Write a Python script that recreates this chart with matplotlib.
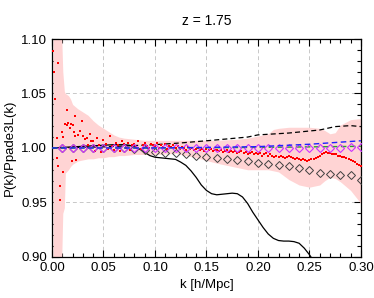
import numpy as np
import matplotlib
matplotlib.use("Agg")
import matplotlib.pyplot as plt
from matplotlib.ticker import MultipleLocator

plt.rcParams['font.family'] = ['Liberation Sans', 'DejaVu Sans']

# ---- pink band (error region) ----
band_k = [0.001, 0.0095, 0.0105, 0.012, 0.013, 0.016, 0.018, 0.020, 0.025, 0.030,
          0.035, 0.040, 0.045, 0.050, 0.055, 0.060, 0.065, 0.070, 0.080, 0.090,
          0.100, 0.120, 0.140, 0.160, 0.180, 0.190, 0.200, 0.210, 0.215, 0.220,
          0.230, 0.240, 0.250, 0.260, 0.265, 0.270, 0.275, 0.280, 0.290, 0.300]
band_hi = [1.100, 1.100, 1.070, 1.052, 1.050, 1.048, 1.045, 1.040, 1.036, 1.033,
           1.030, 1.025, 1.021, 1.018, 1.015, 1.012, 1.010, 1.009, 1.008, 1.007,
           1.007, 1.007, 1.007, 1.007, 1.008, 1.009, 1.011, 1.013, 1.017, 1.018,
           1.019, 1.019, 1.019, 1.018, 1.016, 1.013, 1.014, 1.021, 1.026, 1.027]
band_lo = [0.900, 0.900, 0.940, 0.945, 0.977, 0.980, 0.983, 0.985, 0.988, 0.989,
           0.990, 0.990, 0.991, 0.991, 0.992, 0.992, 0.993, 0.993, 0.994, 0.994,
           0.994, 0.995, 0.991, 0.986, 0.982, 0.980, 0.980, 0.980, 0.979, 0.978,
           0.971, 0.966, 0.964, 0.966, 0.970, 0.973, 0.972, 0.969, 0.961, 0.949]

# ---- red points (measured ratio) ----
red_k_lo = [0.0013, 0.0019, 0.0029, 0.0046, 0.0050, 0.0055, 0.0061, 0.0078, 0.0078, 0.0096,
            0.0104, 0.0110, 0.0126, 0.0143, 0.0150, 0.0160, 0.0175, 0.0185, 0.0190, 0.0200,
            0.0210, 0.0223, 0.0223, 0.0230, 0.0250, 0.0270, 0.0288, 0.0300, 0.0320, 0.0337,
            0.0350, 0.0369, 0.0380]
red_lo = [1.089, 1.070, 1.045, 1.009, 0.991, 0.983, 1.078, 0.965, 0.952, 1.015,
          0.978, 1.010, 1.022, 1.035, 1.021, 1.023, 1.018, 1.022, 0.988, 1.021,
          1.015, 1.029, 1.011, 0.989, 1.012, 1.016, 1.025, 1.011, 1.008, 1.009,
          1.003, 1.013, 1.006]
red_k_hi = np.arange(0.040, 0.3001, 0.002)
red_hi = [1.006, 0.997, 1.009, 1.003, 0.996, 1.007, 1.004, 0.999, 1.011, 1.002,
          0.998, 1.005, 1.003, 0.997, 1.006, 1.004, 1.000, 1.005, 0.998, 1.003,
          1.004, 1.001, 1.006, 0.999, 1.003, 1.005, 1.002, 1.000, 1.004, 1.003,
          1.002, 1.005, 1.000, 1.003, 1.001, 1.004, 0.999, 1.002, 1.001, 1.003,
          1.000, 1.002, 0.999, 1.001, 1.000, 0.998, 1.001, 0.999, 1.000, 0.998,
          0.999, 1.000, 0.998, 0.999, 0.997, 0.999, 0.998, 0.999, 0.997, 0.998,
          0.998, 0.997, 0.998, 0.996, 0.997, 0.998, 0.996, 0.997, 0.996, 0.997,
          0.995, 0.996, 0.997, 0.995, 0.996, 0.994, 0.995, 0.996, 0.994, 0.995,
          0.994, 0.995, 0.993, 0.994, 0.995, 0.993, 0.994, 0.993, 0.992, 0.993,
          0.992, 0.993, 0.992, 0.991, 0.992, 0.993, 0.992, 0.991, 0.990, 0.991,
          0.990, 0.989, 0.990, 0.989, 0.988, 0.989, 0.990, 0.990, 0.991, 0.992,
          0.993, 0.994, 0.995, 0.996, 0.995, 0.995, 0.994, 0.994, 0.994, 0.993,
          0.993, 0.992, 0.992, 0.991, 0.990, 0.989, 0.988, 0.987, 0.985, 0.984,
          0.983]

# ---- black solid / dashed theory curves ----
line_k = [0.000, 0.010, 0.020, 0.030, 0.040, 0.050, 0.060, 0.070, 0.075, 0.080,
          0.085, 0.090, 0.095, 0.100, 0.105, 0.110, 0.115, 0.120, 0.125, 0.130,
          0.135, 0.140, 0.145, 0.150, 0.155, 0.160, 0.165, 0.170, 0.175, 0.180,
          0.185, 0.190, 0.195, 0.200, 0.205, 0.210, 0.215, 0.220, 0.225, 0.230,
          0.235, 0.240, 0.245, 0.250, 0.255]
solid = [1.000, 1.0005, 1.001, 1.0015, 1.002, 1.0025, 1.003, 1.003, 1.0025, 1.001,
         0.999, 0.996, 0.993, 0.9915, 0.991, 0.9905, 0.990, 0.9895, 0.987, 0.984,
         0.979, 0.973, 0.966, 0.961, 0.958, 0.957, 0.9575, 0.958, 0.9585, 0.958,
         0.955, 0.949, 0.941, 0.934, 0.927, 0.921, 0.917, 0.915, 0.9145, 0.9145,
         0.914, 0.9125, 0.908, 0.902, 0.895]

dash_k = [0.000, 0.050, 0.100, 0.125, 0.155, 0.190, 0.200, 0.230, 0.260, 0.275, 0.290, 0.300]
dash = [1.000, 1.001, 1.003, 1.0046, 1.007, 1.010, 1.012, 1.0137, 1.0165, 1.0196, 1.0205, 1.0196]

# ---- blue and green dashed curves ----
blue_k = [0.000, 0.050, 0.100, 0.150, 0.200, 0.250, 0.300]
blue = [1.000, 1.000, 1.000, 1.0005, 1.0012, 1.0034, 1.0066]
green_k = [0.000, 0.100, 0.200, 0.300]
green = [1.000, 1.000, 1.0005, 1.0015]

# ---- diamonds ----
dia_k = np.arange(0.01, 0.3001, 0.01)
dia_black = [1.000, 1.000, 1.000, 1.000, 1.000, 1.000, 1.000, 0.999, 0.998, 0.996,
             0.995, 0.995, 0.994, 0.993, 0.992, 0.991, 0.990, 0.989, 0.988, 0.986,
             0.985, 0.984, 0.983, 0.982, 0.980, 0.977, 0.976, 0.975, 0.975, 0.971]
dia_mag = [1.000, 1.000, 1.000, 1.000, 1.000, 1.000, 1.000, 1.000, 1.000, 1.000,
           1.000, 1.000, 1.000, 1.000, 1.000, 1.000, 1.000, 1.000, 1.000, 1.000,
           1.000, 1.000, 1.000, 1.000, 1.000, 1.000, 1.000, 1.000, 1.0005, 1.0005]

fig = plt.figure(figsize=(3.74, 2.98), dpi=100)
ax = fig.add_axes([0.139, 0.138, 0.826, 0.731])

ax.fill_between(band_k, band_lo, band_hi, color='#ffd4d4', lw=0, zorder=1)
ax.grid(True, which='major', color='#c8c8c8', ls=(0, (4, 3)), lw=0.7, zorder=0)
ax.set_axisbelow(True)

ax.plot(line_k, solid, color='black', lw=0.9, zorder=3)
ax.plot(dash_k, dash, color='black', lw=0.9, ls=(0, (4, 2.5)), zorder=3)
ax.plot(dia_k, dia_black, ls='none', marker='D', ms=3.7, mfc='none', mec='#404040', mew=0.7, zorder=4)
ax.plot(red_k_lo, red_lo, ls='none', marker='s', ms=2.0, color='#ff0000', mew=0, zorder=5)
ax.plot(red_k_hi, red_hi, ls='none', marker='s', ms=2.0, color='#ff0000', mew=0, zorder=5)
ax.plot(green_k, green, color='#22aa22', lw=1.0, ls=(0, (4, 2.5)), zorder=6)
ax.plot(dia_k, dia_mag, ls='none', marker='D', ms=3.7, mfc='none', mec='#cc33ff', mew=0.8, zorder=6)
ax.plot(blue_k, blue, color='#2020ff', lw=1.0, ls=(0, (4, 2.5)), zorder=7)

ax.set_xlim(0, 0.30)
ax.set_ylim(0.90, 1.10)
ax.xaxis.set_major_locator(MultipleLocator(0.05))
ax.xaxis.set_minor_locator(MultipleLocator(0.01))
ax.yaxis.set_major_locator(MultipleLocator(0.05))
ax.yaxis.set_minor_locator(MultipleLocator(0.01))
ax.xaxis.set_major_formatter(matplotlib.ticker.FormatStrFormatter('%.2f'))
ax.yaxis.set_major_formatter(matplotlib.ticker.FormatStrFormatter('%.2f'))
ax.tick_params(which='both', direction='in', top=True, right=True, labelsize=9.5, width=0.8)
ax.tick_params(which='major', length=5)
ax.tick_params(which='minor', length=3)
for s in ax.spines.values():
    s.set_linewidth(0.9)

ax.set_xlabel("k [h/Mpc]", fontsize=9.5)
ax.set_ylabel("P(k)/Ppade3L(k)", fontsize=9.5)
ax.set_title("z = 1.75", fontsize=10, pad=10)

fig.savefig("out.png", dpi=100)
